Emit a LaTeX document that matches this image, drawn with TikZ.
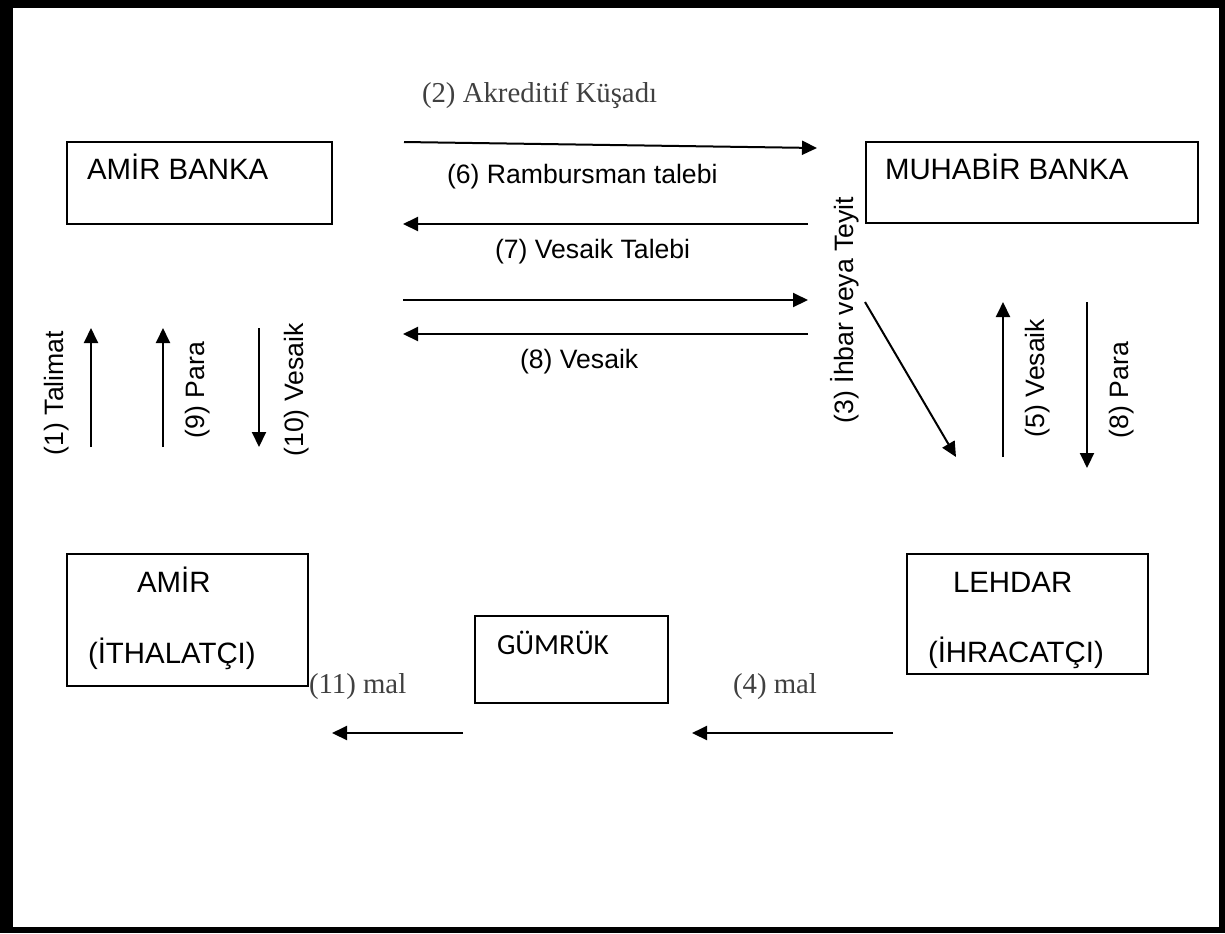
\documentclass[tikz,border=0pt]{standalone}
\usepackage{fontspec}
\setmainfont{Liberation Sans}
\newfontfamily\serifface{Liberation Serif}
\newfontfamily\calibface{Carlito}
\usepackage{tikz}
\usetikzlibrary{arrows.meta}

\begin{document}
\begin{tikzpicture}[
    x=0.5pt, y=-0.5pt,
    every node/.style={inner sep=0pt, outer sep=0pt},
    % Box styles
    party/.style={rectangle, draw=black, line width=1pt},
    partytext/.style={anchor=base west, font=\fontsize{14.7}{17}\selectfont},
    % Arrow styles
    flow/.style={-{Triangle[length=7.5pt, width=7pt]}, line width=1pt},
    % Labels
    flowlabel/.style={anchor=base west, font=\fontsize{13.3}{16}\selectfont},
    sidelabel/.style={rotate=90, font=\fontsize{13.3}{16}\selectfont},
    seriflabel/.style={anchor=base west, text=black!75, font=\serifface\fontsize{14.4}{17}\selectfont}
]

% Page frame
\useasboundingbox (0,0) rectangle (1225,933);
\fill[black] (0,0) rectangle (1225,933);
\fill[white] (13,8) rectangle (1219,927);

% Boxes
\node[party, minimum width=132.5pt, minimum height=41pt] (amirbanka) at (199.5,183) {};
\node[party, minimum width=166pt, minimum height=40.5pt] (muhabir) at (1032,182.5) {};
\node[party, minimum width=120.5pt, minimum height=66pt] (amir) at (187.5,620) {};
\node[party, minimum width=96.5pt, minimum height=43.5pt] (gumruk) at (571.5,659.5) {};
\node[party, minimum width=120.5pt, minimum height=60pt] (lehdar) at (1027.5,614) {};

% Box texts
\node[partytext] (amirbankatxt) at (87,179) {AMİR BANKA};
\node[partytext] (muhabirtxt) at (885,179) {MUHABİR BANKA};
\node[partytext] (amirtxt) at (137,592) {AMİR};
\node[partytext] (ithalatcitxt) at (88,663) {(İTHALATÇI)};
\node[partytext] (lehdartxt) at (953,592) {LEHDAR};
\node[partytext] (ihracatcitxt) at (928,662) {(İHRACATÇI)};
\node[partytext, font=\calibface\fontsize{14.6}{17}\selectfont] (gumruktxt) at (497,654) {GÜMRÜK};

% Arrow ends
\foreach \n/\x/\y in {a2s/404/142, a2e/817/148, a6s/808/224, a6e/403/224,
    a7s/403/300, a7e/808/300, a8s/808/334, a8e/403/334,
    a3s/865/302, a3e/956/457, a5s/1003/457, a5e/1003/302,
    p8s/1087/302, p8e/1087/468, a1s/91/447, a1e/91/328,
    a9s/163/447, a9e/163/328, a10s/259/328, a10e/259/447,
    a11s/463/733, a11e/332/733, a4s/893/733, a4e/692/733}
    \coordinate (\n) at (\x,\y);

% Bank to bank
\draw[flow] (a2s) -- (a2e);
\draw[flow] (a6s) -- (a6e);
\draw[flow] (a7s) -- (a7e);
\draw[flow] (a8s) -- (a8e);
\node[seriflabel] (l2) at (422,102) {(2) Akreditif Küşadı};
\node[flowlabel] (l6) at (447,183) {(6) Rambursman talebi};
\node[flowlabel] (l7) at (495,258) {(7) Vesaik Talebi};
\node[flowlabel] (l8) at (520,368) {(8) Vesaik};

% Muhabir banka to lehdar
\draw[flow] (a3s) -- (a3e);
\draw[flow] (a5s) -- (a5e);
\draw[flow] (p8s) -- (p8e);
\node[sidelabel] (l3) at (845,310) {(3) İhbar veya Teyit};
\node[sidelabel] (l5) at (1038,378) {(5) Vesaik};
\node[sidelabel] (l8p) at (1122,390) {(8) Para};

% Amir to amir banka
\draw[flow] (a1s) -- (a1e);
\draw[flow] (a9s) -- (a9e);
\draw[flow] (a10s) -- (a10e);
\node[sidelabel] (l1) at (57,393) {(1) Talimat};
\node[sidelabel] (l9) at (198,390) {(9) Para};
\node[sidelabel] (l10) at (297,390) {(10) Vesaik};

% Goods
\draw[flow] (a11s) -- (a11e);
\draw[flow] (a4s) -- (a4e);
\node[seriflabel] (l11) at (309,693) {(11) mal};
\node[seriflabel] (l4) at (733,693) {(4) mal};

\end{tikzpicture}
\end{document}
